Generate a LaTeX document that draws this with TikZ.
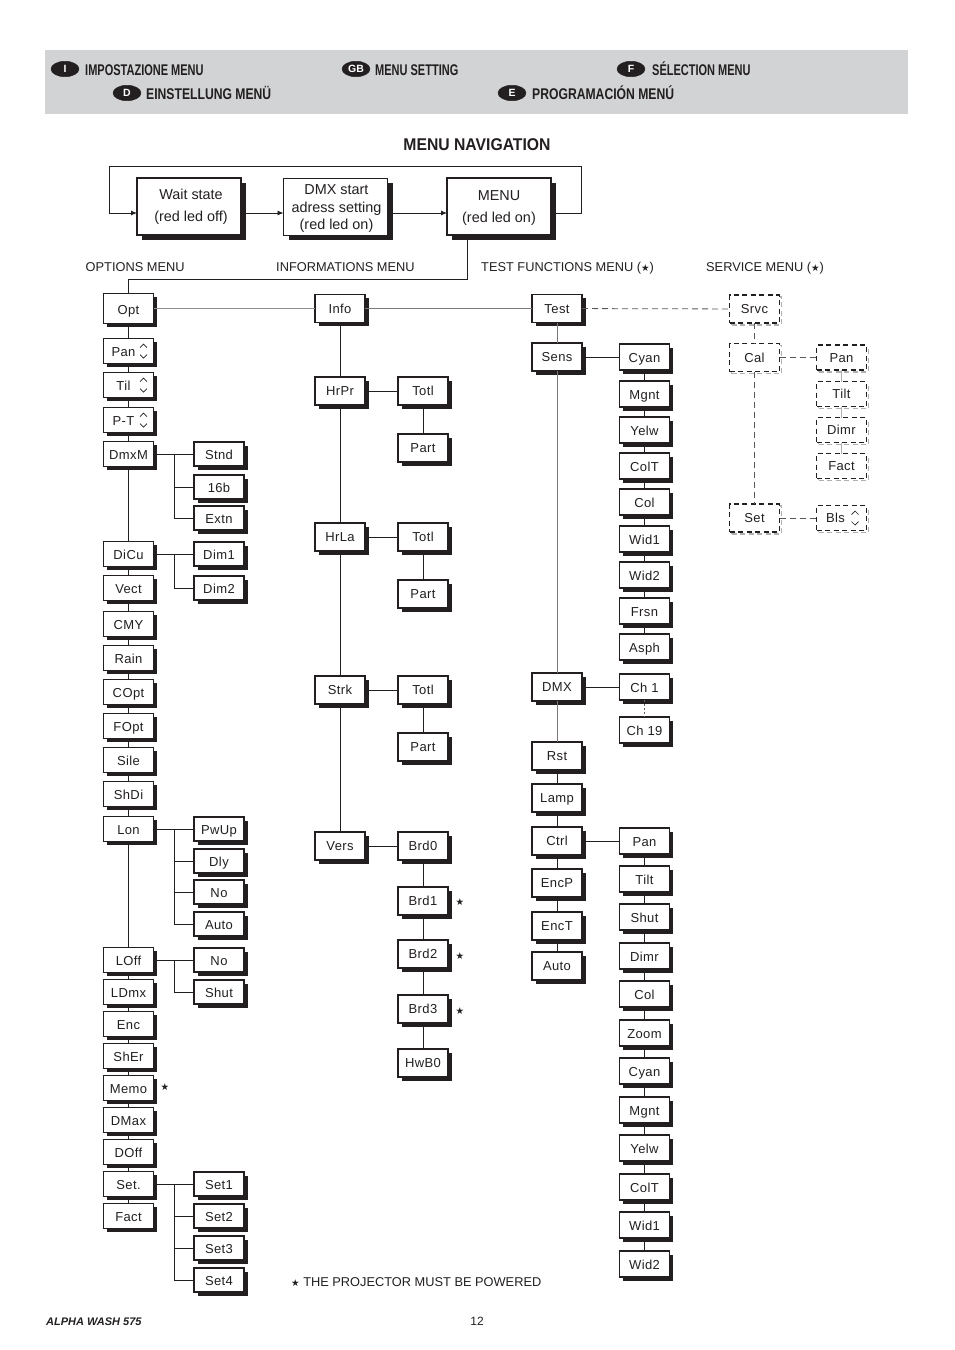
\documentclass[tikz,border=0pt]{standalone}
\usepackage{fontspec}
\usetikzlibrary{arrows.meta,shapes.geometric,shadows}
\setmainfont{Liberation Sans}
\newfontfamily\headfont[FakeStretch=0.71]{Liberation Sans}
\newfontfamily\headfontb[FakeStretch=0.785]{Liberation Sans}
\newfontfamily\titlefont[FakeStretch=0.925]{Liberation Sans}
\newfontfamily\boxfont[LetterSpace=3]{Liberation Sans}
\newfontfamily\symfont{DejaVu Sans}
\definecolor{ink}{RGB}{35,31,32}
\definecolor{band}{RGB}{209,211,212}
\newcommand{\pstar}{{\symfont\fontsize{9.5}{10}\selectfont ★}}
\tikzset{
  >/.tip={Latex[length=6pt,width=5pt]},
  link/.style={draw=ink,line width=0.8pt},
  pale/.style={draw=ink!50,line width=1.1pt},
  dashlink/.style={draw=ink!75,line width=0.8pt,dash pattern=on 6pt off 4pt},
  menubox/.style={draw=ink,fill=white,text=ink,line width=1.5pt,inner sep=0pt,outer sep=0pt,
    minimum width=50pt,minimum height=#1,text height=9.5pt,text depth=0pt,font=\boxfont\fontsize{13}{15}\selectfont,
    drop shadow={shadow xshift=3.5pt,shadow yshift=-3.5pt,fill=ink,draw=none,opacity=1}},
  menubox/.default=25pt,
  lowtext/.style={text height=11.5pt},
  svcbox/.style={draw=ink,fill=white,text=ink,line width=1.1pt,dash pattern=on 5pt off 3.5pt,inner sep=0pt,outer sep=0pt,
    minimum width=50pt,minimum height=#1,text height=9.5pt,text depth=0pt,font=\boxfont\fontsize{13}{15}\selectfont,
    drop shadow={shadow xshift=2pt,shadow yshift=-2pt,fill=none,draw=ink!35,line width=1.2pt,dash pattern=on 5pt off 3.5pt,opacity=1}},
  svcbox/.default=25pt,
  topbox/.style={draw=ink,fill=white,text=ink,line width=#1,inner sep=0pt,outer sep=0pt,
    minimum width=104pt,minimum height=57pt,align=center,font=\fontsize{14.4}{17.5}\selectfont,
    drop shadow={shadow xshift=5pt,shadow yshift=-5pt,fill=ink,draw=none,opacity=1}},
  badge/.style={ellipse,fill=ink,draw=ink,text=white,inner sep=0pt,minimum width=28pt,minimum height=15.5pt,
    font=\bfseries\fontsize{10.5}{12}\selectfont},
  headtext/.style={anchor=west,inner sep=0pt,text=ink,text height=11pt,text depth=0pt,font=\headfont\bfseries\fontsize{15.5}{17}\selectfont},
  headtextb/.style={headtext,font=\headfontb\bfseries\fontsize{15.5}{17}\selectfont},
  caption/.style={anchor=west,inner sep=0pt,text=ink,font=\fontsize{12.8}{15}\selectfont},
}
\begin{document}
\begin{tikzpicture}[x=1pt,y=-1pt]
\useasboundingbox (0,0) rectangle (954,1350);
\fill[band] (45,50) rectangle (908,114);

% language strip
\node[badge] (bi) at (65,69)   {I};
\node[badge] (bgb) at (356,69) {GB};
\node[badge] (bf) at (631,69)  {F};
\node[badge] (bd) at (127,93)  {D};
\node[badge] (be) at (512,93)  {E};
\node[headtext] (ti) at (85,69.5)    {IMPOSTAZIONE MENU};
\node[headtext] (tgb) at (375,69.5)  {MENU SETTING};
\node[headtext] (tf) at (652,69.5)   {SÉLECTION MENU};
\node[headtextb] (td) at (146,93.5)   {EINSTELLUNG MENÜ};
\node[headtextb] (te) at (532,93.5)   {PROGRAMACIÓN MENÚ};
\node[inner sep=0pt,text=ink,font=\titlefont\bfseries\fontsize{17}{19}\selectfont] (title) at (477,144.5) {MENU NAVIGATION};

% top row
\node[topbox=1.4pt] (wait) at (189,206.5) {\hspace*{4pt}Wait state\\[4.5pt]\hspace*{4pt}(red led off)};
\node[topbox=1pt] (dmxset) at (335.5,206.5) {\hspace*{2pt}\rule{0pt}{14.5pt}DMX start\\\hspace*{2pt}adress setting\\\hspace*{2pt}(red led on)};
\node[topbox=1.8pt] (menu) at (499,206.5) {\rule{0pt}{12pt}MENU\\[4.5pt](red led on)};
\coordinate (loopa) at (581,213);
\coordinate (loopb) at (581,166);
\coordinate (loopc) at (109,166);
\coordinate (loopd) at (109,213);
\coordinate (waitin) at (wait.west |- loopd);
\coordinate (waitout) at (wait.east |- loopd);
\coordinate (dmxin) at (dmxset.west |- loopd);
\coordinate (dmxout) at (dmxset.east |- loopd);
\coordinate (menuin) at (menu.west |- loopd);
\coordinate (menuout) at (menu.east |- loopd);
\coordinate (mdown) at (467,236);
\coordinate (mbend) at (467,279);
\draw[link,->] (menuout) -- (loopa) -- (loopb) -- (loopc) -- (loopd) -- (waitin);
\draw[link,->] (waitout) -- (dmxin);
\draw[link,->] (dmxout) -- (menuin);

% menu titles
\node[caption] (ho) at (85.5,267.5) {OPTIONS MENU};
\node[caption] (hi) at (276,267.5)  {INFORMATIONS MENU};
\node[caption] (ht) at (481,268.5)  {TEST FUNCTIONS MENU (\pstar)};
\node[caption] (hs) at (706,268.5)  {SERVICE MENU (\pstar)};

% options column
\node[menubox=30pt,lowtext] (opt) at (128.5,308.5) {Opt};
\foreach \n/\t/\y in {pan/Pan\kern10pt/351,til/Til\kern10pt/385,pt/P-T\kern10pt/420,dmxm/DmxM/454,
  dicu/DiCu/554,vect/Vect/588,cmy/CMY/624,rain/Rain/658,copt/COpt/692,fopt/FOpt/726,sile/Sile/760,shdi/ShDi/794,
  lon/Lon/829,loff/LOff/960,ldmx/LDmx/992,enc/Enc/1024,sher/ShEr/1056,memo/Memo/1088,dmax/DMax/1120,
  doff/DOff/1152,setp/Set./1184,fctr/Fact/1216}
{
  \node[menubox,lowtext] (\n) at (128.5,\y) {\t};
}
\foreach \n/\t/\y in {stnd/Stnd/454,b16/16b/487,extn/Extn/518,dima/Dim1/554,dimb/Dim2/588,pwup/PwUp/829,dly/Dly/861,
  noa/No/892,autoa/Auto/924,nob/No/960,shuta/Shut/992,seta/Set1/1184,setb/Set2/1216,setc/Set3/1248,setd/Set4/1280}
{
  \node[menubox=24pt,lowtext] (\n) at (219,\y) {\t};
}

% informations column
\foreach \n/\t/\y in {info/Info/308.5,hrpr/HrPr/391,hrla/HrLa/537,strk/Strk/690,vers/Vers/846}
{
  \node[menubox=28pt] (\n) at (340,\y) {\t};
}
\foreach \n/\t/\y in {tota/Totl/391,para/Part/448,totb/Totl/537,parb/Part/594,totc/Totl/690,parc/Part/747,
  brda/Brd0/846,brdb/Brd1/901,brdc/Brd2/954,brdd/Brd3/1009,hwb/HwB0/1063}
{
  \node[menubox=28pt] (\n) at (423,\y) {\t};
}

% test column
\foreach \n/\t/\y in {test/Test/308.5,sens/Sens/357,dmx/DMX/687,rst/Rst/756,lamp/Lamp/798,ctrl/Ctrl/841,
  encp/EncP/883,enct/EncT/926,autot/Auto/966}
{
  \node[menubox=28pt] (\n) at (557,\y) {\t};
}
\foreach \n/\t/\y in {cyana/Cyan/357,mgnta/Mgnt/394,yelwa/Yelw/430,colta/ColT/466,cola/Col/502,wida/Wid1/539,
  widb/Wid2/575,frsn/Frsn/611,asph/Asph/647,cha/Ch 1/687,chb/Ch 19/730,pant/Pan/841,tilt/Tilt/879,shut/Shut/917,
  dimr/Dimr/956,colb/Col/994,zoom/Zoom/1033,cyanb/Cyan/1071,mgntb/Mgnt/1110,yelwb/Yelw/1148,coltb/ColT/1187,
  widc/Wid1/1225,widd/Wid2/1264}
{
  \node[menubox=26pt,lowtext] (\n) at (644.5,\y) {\t};
}

% service column
\foreach \n/\t/\y in {srvc/Srvc/309,cal/Cal/357.5,setm/Set/518}
{
  \node[svcbox=28pt] (\n) at (754.5,\y) {\t};
}
\foreach \n/\t/\y in {pans/Pan/357.5,tilts/Tilt/394,dimrs/Dimr/430,facts/Fact/466,bls/Bls\kern12pt/518}
{
  \node[svcbox] (\n) at (841.5,\y) {\t};
}

% vertical chains
\foreach \a/\b in {opt/pan,pan/til,til/pt,pt/dmxm,dmxm/dicu,dicu/vect,vect/cmy,cmy/rain,rain/copt,copt/fopt,fopt/sile,
  sile/shdi,shdi/lon,lon/loff,loff/ldmx,ldmx/enc,enc/sher,sher/memo,memo/dmax,dmax/doff,doff/setp,setp/fctr,
  info/hrpr,hrpr/hrla,hrla/strk,strk/vers,tota/para,totb/parb,totc/parc,brda/brdb,brdb/brdc,brdc/brdd,brdd/hwb,
  rst/lamp,lamp/ctrl,ctrl/encp,encp/enct,enct/autot,cyana/mgnta,mgnta/yelwa,yelwa/colta,colta/cola,cola/wida,
  wida/widb,widb/frsn,frsn/asph,pant/tilt,tilt/shut,shut/dimr,dimr/colb,colb/zoom,zoom/cyanb,cyanb/mgntb,
  mgntb/yelwb,yelwb/coltb,coltb/widc,widc/widd}
{
  \draw[link] (\a) -- (\b);
}
\foreach \a/\b in {test/sens,sens/dmx,dmx/rst}
{
  \draw[link,draw=ink!60] (\a) -- (\b);
}

% horizontal links
\foreach \a/\b in {dmxm/stnd,dicu/dima,lon/pwup,loff/nob,setp/seta,hrpr/tota,hrla/totb,strk/totc,vers/brda,
  sens/cyana,dmx/cha,ctrl/pant}
{
  \draw[link] (\a) -- (\b);
}
\draw[pale] (opt) -- (info);
\draw[link,draw=ink!60] (info) -- (test);

% side branches
\coordinate (tapa) at (174,454);
\coordinate (tapb) at (174,554);
\coordinate (tapc) at (174,829);
\coordinate (tapd) at (174,960);
\coordinate (tape) at (174,1184);
\foreach \j in {b16,extn} \draw[link] (tapa) |- (\j);
\draw[link] (tapb) |- (dimb);
\foreach \j in {dly,noa,autoa} \draw[link] (tapc) |- (\j);
\draw[link] (tapd) |- (shuta);
\foreach \j in {setb,setc,setd} \draw[link] (tape) |- (\j);
\draw[link] (mdown) -- (mbend) -| (opt);

% dashed links
\foreach \a/\b in {test/srvc,srvc/cal,cal/setm,cal/pans,setm/bls}
{
  \draw[dashlink] (\a) -- (\b);
}
\foreach \a/\b in {pans/tilts,tilts/dimrs,dimrs/facts}
{
  \draw[line width=1pt,draw=ink!35] (\a) -- (\b);
}
\draw[line width=0.8pt,draw=ink!70,dash pattern=on 2pt off 2pt] (cha) -- (chb);

% up and down marks
\foreach \n in {pan,til,pt}
{
  \draw[draw=ink,line width=0.7pt] ([shift={(11.5,-3.5)}]\n.center) -- ++(3.5,-3.5) -- ++(3.5,3.5);
  \draw[draw=ink,line width=0.7pt] ([shift={(11.5,3.5)}]\n.center) -- ++(3.5,3.5) -- ++(3.5,-3.5);
}
\draw[draw=ink,line width=0.7pt] ([shift={(10,-3.5)}]bls.center) -- ++(3.5,-3.5) -- ++(3.5,3.5);
\draw[draw=ink,line width=0.7pt] ([shift={(10,3.5)}]bls.center) -- ++(3.5,3.5) -- ++(3.5,-3.5);

% stars and notes
\node[inner sep=0pt,text=ink] (stara) at (165,1087.5) {\pstar};
\node[inner sep=0pt,text=ink] (starb) at (460,902.5)  {\pstar};
\node[inner sep=0pt,text=ink] (starc) at (460,956.5)  {\pstar};
\node[inner sep=0pt,text=ink] (stard) at (460,1011.5) {\pstar};
\node[caption] (note) at (291,1282.5) {\pstar{} THE PROJECTOR MUST BE POWERED};
\node[inner sep=0pt,anchor=west,text=ink,font=\bfseries\itshape\fontsize{11}{13}\selectfont] (foot) at (46,1321.5) {ALPHA WASH 575};
\node[inner sep=0pt,text=ink,font=\fontsize{12}{14}\selectfont] (page) at (477,1321) {12};
\end{tikzpicture}
\end{document}
